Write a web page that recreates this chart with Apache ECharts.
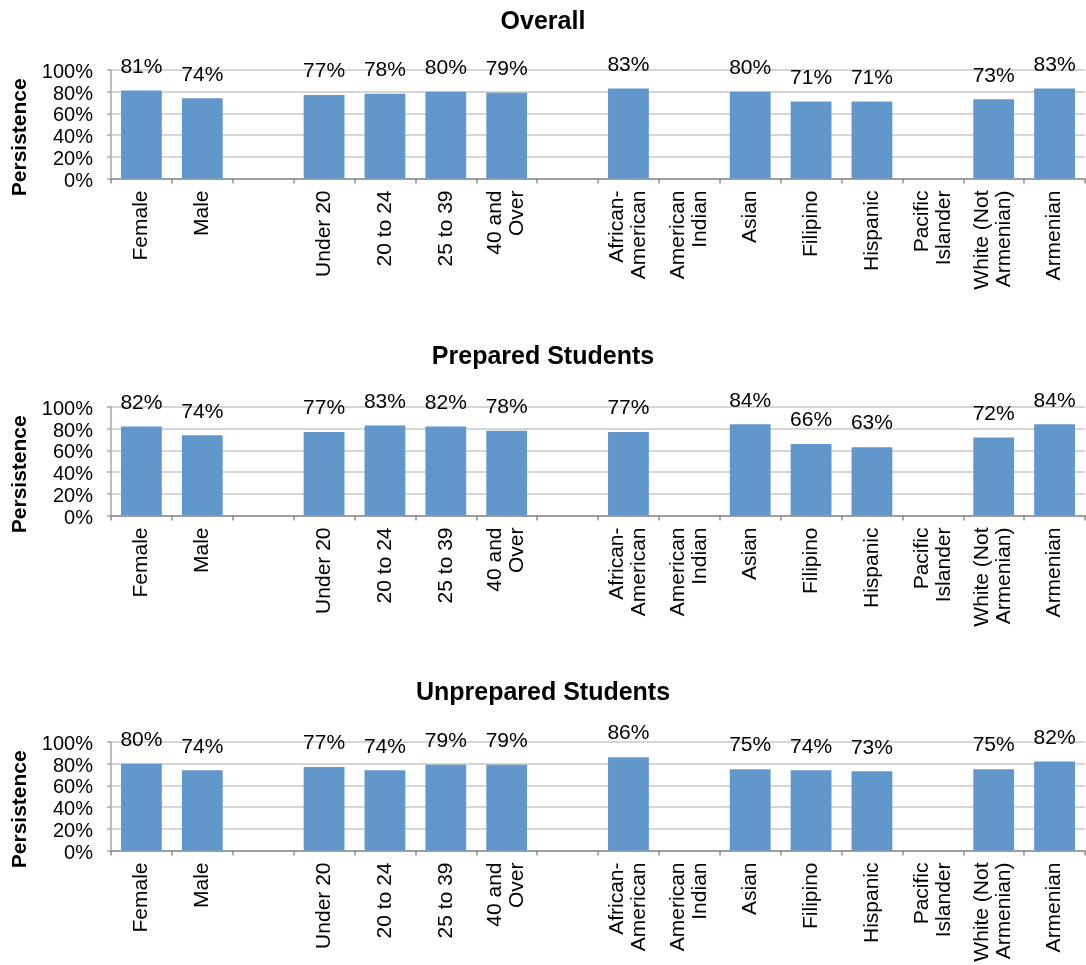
<!DOCTYPE html>
<html>
<head>
<meta charset="utf-8">
<script src="https://cdn.jsdelivr.net/npm/echarts@6/dist/echarts.min.js"></script>
<style>
html,body{margin:0;padding:0;background:#fff;}
#chart{width:1086px;height:965px;}
</style>
</head>
<body>
<div id="chart"></div>
<script>
var categories = ['Female','Male','','Under 20','20 to 24','25 to 39','40 and\nOver','',
  'African-\nAmerican','American\nIndian','Asian','Filipino','Hispanic','Pacific\nIslander','White (Not\nArmenian)','Armenian'];
var overall    = [81,74,null,77,78,80,79,null,83,null,80,71,71,null,73,83];
var prepared   = [82,74,null,77,83,82,78,null,77,null,84,66,63,null,72,84];
var unprepared = [80,74,null,77,74,79,79,null,86,null,75,74,73,null,75,82];
var panelTitles = ['Overall','Prepared Students','Unprepared Students'];
var yTicks = [0,20,40,60,80,100];

var FONT = '"Liberation Sans", Arial, Helvetica, sans-serif';
var panels = [overall, prepared, unprepared];
var gridTops = [70, 407, 742];
var titleTops = [5, 340, 676];
var grids = [], xAxes = [], yAxes = [], series = [], titles = [];
panels.forEach(function(vals, i){
  grids.push({left:111, right:1, top:gridTops[i], height:108.5, containLabel:false});
  titles.push({text:panelTitles[i], left:'center', top:titleTops[i],
    textStyle:{fontFamily:FONT, fontSize:25, fontWeight:'bold', color:'#000'}});
  xAxes.push({type:'category', gridIndex:i, data:categories,
    axisLine:{lineStyle:{color:'#8c8c8c', width:1.5}},
    axisTick:{show:true, length:5, lineStyle:{color:'#8c8c8c', width:1.5}},
    axisLabel:{rotate:90, interval:0, margin:12, fontFamily:FONT, fontSize:21, color:'#000', lineHeight:22}
  });
  yAxes.push({type:'value', gridIndex:i, min:0, max:100, interval:20,
    name:'Persistence', nameLocation:'middle', nameGap:80,
    nameTextStyle:{fontFamily:FONT, fontSize:21, fontWeight:'bold', color:'#000', padding:[0,26,0,0]},
    axisLine:{show:true, lineStyle:{color:'#a6a6a6', width:1.5}},
    axisTick:{show:true, length:4, lineStyle:{color:'#a6a6a6', width:1.5}},
    splitLine:{show:true, lineStyle:{color:'#c8c8c8', width:1.5}},
    axisLabel:{fontFamily:FONT, fontSize:20, color:'#000', margin:18, verticalAlign:'top', lineHeight:5,
      formatter:function(v){ return yTicks.indexOf(v) >= 0 ? v + '%' : ''; }}
  });
  series.push({type:'bar', xAxisIndex:i, yAxisIndex:i, data:vals, barCategoryGap:'33%',
    itemStyle:{color:'#6197CB'},
    label:{show:true, position:'top', distance:13, fontFamily:FONT, fontSize:21, color:'#000',
      formatter:function(p){ return p.value == null ? '' : p.value + '%'; }},
    animation:false
  });
});

var chart = echarts.init(document.getElementById('chart'), null, {renderer:'canvas'});
chart.setOption({
  animation:false,
  backgroundColor:'#fff',
  title:titles, grid:grids, xAxis:xAxes, yAxis:yAxes, series:series
});
</script>
</body>
</html>
